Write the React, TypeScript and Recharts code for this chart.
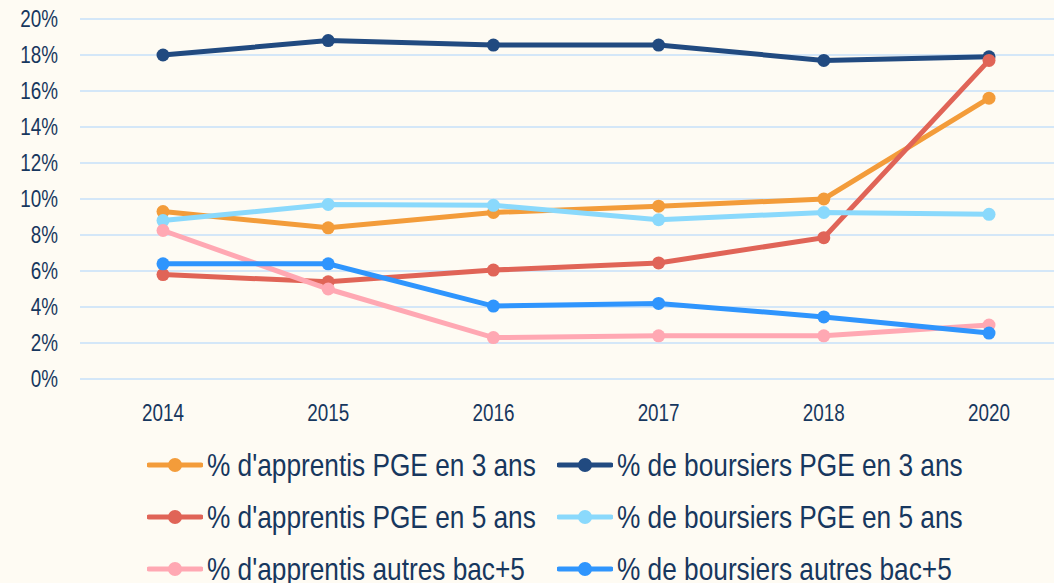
import React from 'react';
import { LineChart, Line, XAxis, YAxis, CartesianGrid, Legend } from 'recharts';

const YEARS = ['2014', '2015', '2016', '2017', '2018', '2020'];

const APPRENTIS_PGE_3 = [9.3, 8.4, 9.25, 9.6, 10.0, 15.6];
const BOURSIERS_PGE_3 = [18.0, 18.8, 18.55, 18.55, 17.7, 17.9];
const APPRENTIS_PGE_5 = [5.8, 5.4, 6.05, 6.45, 7.85, 17.7];
const BOURSIERS_PGE_5 = [8.8, 9.7, 9.65, 8.85, 9.25, 9.15];
const APPRENTIS_AUTRES = [8.25, 5.0, 2.3, 2.4, 2.4, 3.0];
const BOURSIERS_AUTRES = [6.4, 6.4, 4.05, 4.2, 3.45, 2.55];

const Y_TICKS = [0, 2, 4, 6, 8, 10, 12, 14, 16, 18, 20];

const SERIES = [
    { key: 'a3', name: "% d'apprentis PGE en 3 ans", color: '#F39C3A', values: APPRENTIS_PGE_3 },
    { key: 'b3', name: '% de boursiers PGE en 3 ans', color: '#214A80', values: BOURSIERS_PGE_3 },
    { key: 'a5', name: "% d'apprentis PGE en 5 ans", color: '#E06457', values: APPRENTIS_PGE_5 },
    { key: 'b5', name: '% de boursiers PGE en 5 ans', color: '#8AD9FC', values: BOURSIERS_PGE_5 },
    { key: 'aa', name: "% d'apprentis autres bac+5", color: '#FFA8B3', values: APPRENTIS_AUTRES },
    { key: 'ba', name: '% de boursiers autres bac+5', color: '#2F95FD', values: BOURSIERS_AUTRES },
];

const data = YEARS.map((year, i) => {
    const row: Record<string, string | number> = { year };
    SERIES.forEach((s) => { row[s.key] = s.values[i]; });
    return row;
});

const TEXT = '#17375E';
const FONT = "'Liberation Sans', Arial, sans-serif";
// the original uses a narrow face; squeeze the regular one
const SQUEEZE = 0.82;

const XTick = ({ x, y, payload }: any) => (
    <text transform={`translate(${x},${y + 26}) scale(${SQUEEZE},1)`} textAnchor="middle"
        dominantBaseline="central" fontFamily={FONT} fontSize={23} fill={TEXT}>
        {payload.value}
    </text>
);

const YTick = ({ x, y, payload }: any) => (
    <text transform={`translate(${x - 14},${y}) scale(${SQUEEZE},1)`} textAnchor="end"
        dominantBaseline="central" fontFamily={FONT} fontSize={23} fill={TEXT}>
        {payload.value}%
    </text>
);

const renderLegend = () => (
    <div style={{ position: 'relative', width: 1080, height: 156 }}>
        {SERIES.map((s, i) => (
            <div key={s.key} style={{
                position: 'absolute', left: i % 2 ? 557 : 147, top: Math.floor(i / 2) * 52,
                height: 52, display: 'flex', alignItems: 'center', whiteSpace: 'nowrap'
            }}>
                <svg width={56} height={16}>
                    <line x1={2} y1={8} x2={54} y2={8} stroke={s.color} strokeWidth={5} strokeLinecap="round" />
                    <circle cx={28} cy={8} r={7} fill={s.color} />
                </svg>
                <span style={{
                    marginLeft: 4, fontFamily: FONT, fontSize: 32, color: TEXT, lineHeight: '52px',
                    display: 'inline-block', transform: `scaleX(${SQUEEZE})`, transformOrigin: 'left center'
                }}>
                    {s.name}
                </span>
            </div>
        ))}
    </div>
);

export default function App() {
    return (
        <div style={{
            position: 'absolute', left: 0, top: 0, width: 1054, height: 583,
            overflow: 'hidden', background: '#FEFBF3'
        }}>
            <LineChart width={1080} height={595} data={data}
                margin={{ top: 19, right: 8, bottom: 0, left: 0 }}>
                <CartesianGrid vertical={false} stroke="#C6E1FA" strokeWidth={1.5} />
                <XAxis dataKey="year" height={60} axisLine={false} tickLine={false} tick={<XTick />}
                    padding={{ left: 83, right: 83 }} />
                <YAxis domain={[0, 20]} ticks={Y_TICKS} width={80} axisLine={false} tickLine={false}
                    tick={<YTick />} interval={0} />
                <Legend verticalAlign="bottom" content={renderLegend}
                    wrapperStyle={{ left: 0, bottom: 0, width: 1080 }} />
                {SERIES.map((s) => (
                    <Line key={s.key} dataKey={s.key} name={s.name} type="linear"
                        stroke={s.color} strokeWidth={5}
                        dot={{ r: 6.5, fill: s.color, stroke: s.color, strokeWidth: 0 }}
                        activeDot={false} isAnimationActive={false} />
                ))}
            </LineChart>
        </div>
    );
}
